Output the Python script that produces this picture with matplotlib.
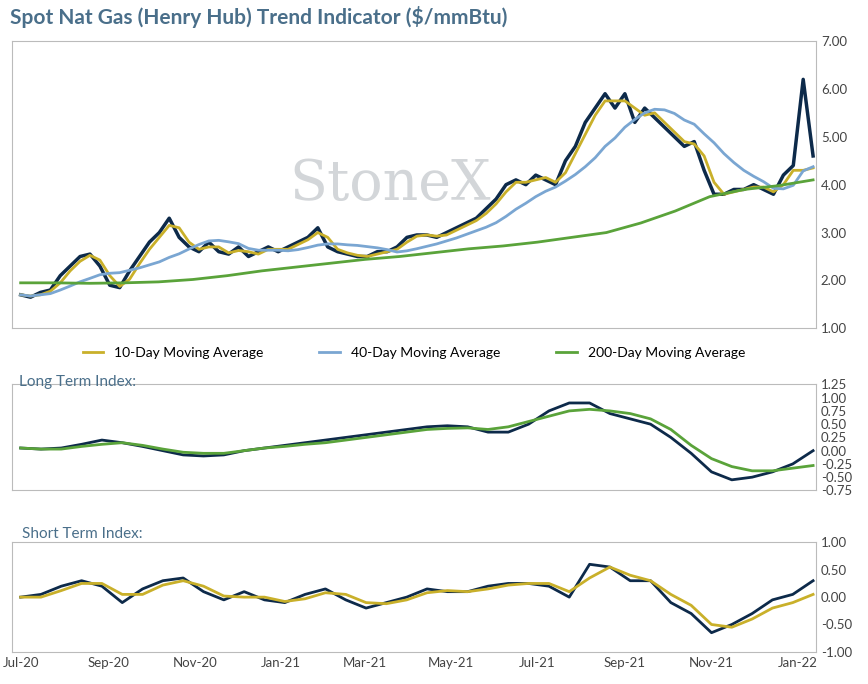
import numpy as np
import pandas as pd
import matplotlib
matplotlib.use("Agg")
import matplotlib.pyplot as plt
import matplotlib.dates as mdates

plt.rcParams['font.family'] = ['Lato', 'DejaVu Sans']

NAVY = '#0d2a4a'
GOLD = '#c9b02a'
LBLUE = '#7aa6d2'
GREEN = '#5aa33a'
TXT = '#4a6f8a'

# weekly spot price from Jul-2020
price = [1.7, 1.65, 1.75, 1.8, 2.1, 2.3, 2.5, 2.55, 2.3, 1.9, 1.85, 2.2,
         2.5, 2.8, 3.0, 3.3, 2.9, 2.7, 2.6, 2.8, 2.6, 2.55, 2.7, 2.5,
         2.6, 2.7, 2.6, 2.7, 2.8, 2.9, 3.1, 2.7, 2.6, 2.55, 2.5, 2.5,
         2.6, 2.6, 2.7, 2.9, 2.95, 2.95, 2.9, 3.0, 3.1, 3.2, 3.3, 3.5,
         3.7, 4.0, 4.1, 4.0, 4.2, 4.1, 4.0, 4.5, 4.8, 5.3, 5.6, 5.9,
         5.6, 5.9, 5.3, 5.6, 5.4, 5.2, 5.0, 4.8, 4.9, 4.3, 3.8, 3.8,
         3.9, 3.9, 4.0, 3.9, 3.8, 4.2, 4.4, 6.2, 4.6]
ma200 = [1.95, 1.95, 1.94, 1.95, 1.97, 2.02, 2.1, 2.2, 2.28, 2.36, 2.44, 2.5,
         2.58, 2.66, 2.72, 2.8, 2.9, 3.0, 3.2, 3.45, 3.75, 3.9, 3.98, 4.1]
# semi-monthly indices
long_px = [0.05, 0.03, 0.05, 0.12, 0.2, 0.15, 0.08, 0.0, -0.08, -0.1, -0.08, 0.0,
           0.05, 0.1, 0.15, 0.2, 0.25, 0.3, 0.35, 0.4, 0.45, 0.47, 0.45, 0.35,
           0.35, 0.5, 0.75, 0.9, 0.9, 0.7, 0.6, 0.5, 0.25, -0.05, -0.4, -0.55,
           -0.5, -0.4, -0.25, 0.0]
long_ma = [0.05, 0.03, 0.03, 0.08, 0.12, 0.15, 0.1, 0.03, -0.03, -0.05, -0.05, 0.0,
           0.05, 0.08, 0.12, 0.15, 0.2, 0.25, 0.3, 0.35, 0.4, 0.42, 0.43, 0.4,
           0.45, 0.55, 0.65, 0.75, 0.78, 0.75, 0.7, 0.6, 0.4, 0.1, -0.15, -0.3,
           -0.38, -0.38, -0.33, -0.28]
short_px = [0.0, 0.05, 0.2, 0.3, 0.2, -0.1, 0.15, 0.3, 0.35, 0.1, -0.05, 0.1,
            -0.05, -0.1, 0.05, 0.15, -0.05, -0.2, -0.1, 0.0, 0.15, 0.1, 0.1, 0.2,
            0.25, 0.25, 0.2, 0.0, 0.6, 0.55, 0.3, 0.3, -0.1, -0.3, -0.65, -0.5,
            -0.3, -0.05, 0.05, 0.3]
short_ma = [0.0, 0.0, 0.12, 0.25, 0.25, 0.05, 0.05, 0.22, 0.3, 0.2, 0.02, 0.0,
            0.0, -0.08, -0.03, 0.08, 0.05, -0.1, -0.12, -0.05, 0.08, 0.12, 0.1, 0.15,
            0.22, 0.25, 0.25, 0.1, 0.35, 0.55, 0.4, 0.3, 0.05, -0.15, -0.5, -0.55,
            -0.4, -0.2, -0.1, 0.05]

end = '2022-01-12'
wk = pd.date_range('2020-07-01', end, periods=len(price))
s = pd.Series(price, index=wk)
ma10 = s.rolling(2, min_periods=1).mean()
ma10.iloc[-2:] = [4.3, 4.35]
ma40 = s.rolling(8, min_periods=1).mean()
mo = pd.date_range('2020-07-01', end, periods=len(ma200))
sm = pd.date_range('2020-07-01', end, periods=len(long_px))

fig = plt.figure(figsize=(8.68, 6.84), dpi=100)
fig.text(0.012, 0.965, 'Spot Nat Gas (Henry Hub) Trend Indicator ($/mmBtu)',
         fontsize=15, fontweight='bold', color=TXT)
xl = (pd.Timestamp('2020-06-25'), pd.Timestamp('2022-01-14'))

ax1 = fig.add_axes([0.014, 0.52, 0.926, 0.42])
ax1.plot(wk, price, color=NAVY, lw=2.5)
ax1.plot(wk, ma10, color=GOLD, lw=2, label='10-Day Moving Average')
ax1.plot(wk, ma40, color=LBLUE, lw=2, label='40-Day Moving Average')
ax1.plot(mo, ma200, color=GREEN, lw=2, label='200-Day Moving Average')
ax1.set_ylim(1, 7)
ax1.set_yticks(np.arange(1, 7.01, 1))
ax1.set_yticklabels([f'{v:.2f}' for v in np.arange(1, 7.01, 1)])
ax1.text(0.47, 0.5, 'StoneX', transform=ax1.transAxes, fontsize=40,
         family='DejaVu Serif', color='#c8ccd0', alpha=0.8, ha='center', va='center')
ax1.legend(loc='upper center', bbox_to_anchor=(0.5, -0.02), ncol=3, frameon=False,
           fontsize=10, handlelength=1.5, columnspacing=4)

ax2 = fig.add_axes([0.014, 0.283, 0.926, 0.155])
ax2.plot(sm, long_px, color=NAVY, lw=2)
ax2.plot(sm, long_ma, color=GREEN, lw=2)
ax2.set_ylim(-0.75, 1.25)
ax2.set_yticks(np.arange(-0.75, 1.26, 0.25))
ax2.set_yticklabels([f'{v:.2f}' for v in np.arange(-0.75, 1.26, 0.25)])
fig.text(0.022, 0.435, 'Long Term Index:', fontsize=11, color=TXT)

ax3 = fig.add_axes([0.014, 0.047, 0.926, 0.16])
ax3.plot(sm, short_px, color=NAVY, lw=2)
ax3.plot(sm, short_ma, color=GOLD, lw=2)
ax3.set_ylim(-1, 1)
ax3.set_yticks(np.arange(-1, 1.01, 0.5))
ax3.set_yticklabels([f'{v:.2f}' for v in np.arange(-1, 1.01, 0.5)])
fig.text(0.025, 0.213, 'Short Term Index:', fontsize=11, color=TXT)

for ax in (ax1, ax2, ax3):
    ax.set_xlim(*xl)
    ax.yaxis.tick_right()
    ax.tick_params(axis='y', labelsize=9.5, colors='#444444', length=0)
    ax.xaxis.set_major_locator(mdates.MonthLocator(bymonth=[1, 3, 5, 7, 9, 11]))
    ax.xaxis.set_major_formatter(mdates.DateFormatter('%b-%y'))
    for sp in ax.spines.values():
        sp.set_color('#bbbbbb')
for ax in (ax1, ax2):
    ax.tick_params(axis='x', labelbottom=False, length=0)
ax3.tick_params(axis='x', labelsize=9.5, colors='#444444', length=0)

fig.savefig('out.png')
